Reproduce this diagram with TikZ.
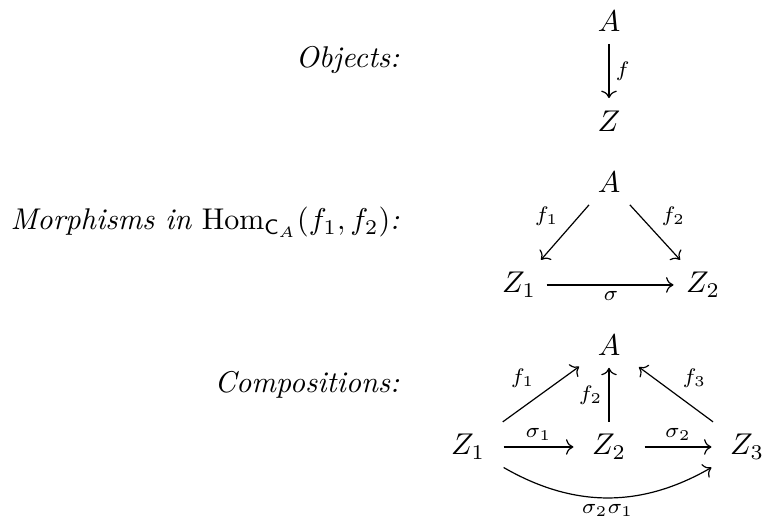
\documentclass[tikz,border=0pt]{standalone}
\usepackage{amsmath}
\usepackage{tikz}
\usetikzlibrary{arrows.meta}

\begin{document}
\begin{tikzpicture}[
  obj/.style={inner xsep=0.6em, inner ysep=0.4em},
  map/.style={-{Computer Modern Rightarrow}, line width=0.4pt},
  lbl/.style={font=\scriptsize, inner sep=2pt, auto},
  head/.style={anchor=base east, font=\itshape}
]
\useasboundingbox (0,0) rectangle (8.938,6.103);

% objects
\node[head] (hobj) at (4.803,5.307) {Objects:};
\node[obj] (a1) at (7.134,5.858) {$A$};
\node[obj] (z) at (7.134,4.686) {$Z$};
\draw[map] (a1) -- node[lbl]{$f$} (z);

% morphisms
\node[head] (hmor) at (4.803,3.409) {Morphisms in \upshape$\operatorname{Hom}_{\mathsf{C}_A}(f_1,f_2)$\itshape:};
\node[obj] (a2) at (7.134,3.971) {$A$};
\node[obj] (z21) at (6.080,2.765) {$Z_1$};
\node[obj] (z22) at (8.236,2.765) {$Z_2$};
\draw[map] (a2) -- node[lbl,swap]{$f_1$} (z21);
\draw[map] (a2) -- node[lbl]{$f_2$} (z22);
\draw[map, shorten <=-2.7pt, shorten >=-2pt] (z21) -- node[lbl,swap]{$\sigma$} (z22);

% compositions
\node[head] (hcomp) at (4.803,1.500) {Compositions:};
\node[obj] (a3) at (7.134,2.062) {$A$};
\node[obj] (z31) at (5.483,0.867) {$Z_1$};
\node[obj] (z32) at (7.134,0.867) {$Z_2$};
\node[obj] (z33) at (8.751,0.867) {$Z_3$};
\draw[map] (z31) -- node[lbl]{$f_1$} (a3);
\draw[map] (z32) -- node[lbl]{$f_2$} (a3);
\draw[map] (z33) -- node[lbl,swap]{$f_3$} (a3);
\draw[map] (z31) -- node[lbl]{$\sigma_1$} (z32);
\draw[map] (z32) -- node[lbl]{$\sigma_2$} (z33);
\draw[map] (z31) to[bend right] node[lbl,swap]{$\sigma_2\sigma_1$} (z33);
\end{tikzpicture}
\end{document}
